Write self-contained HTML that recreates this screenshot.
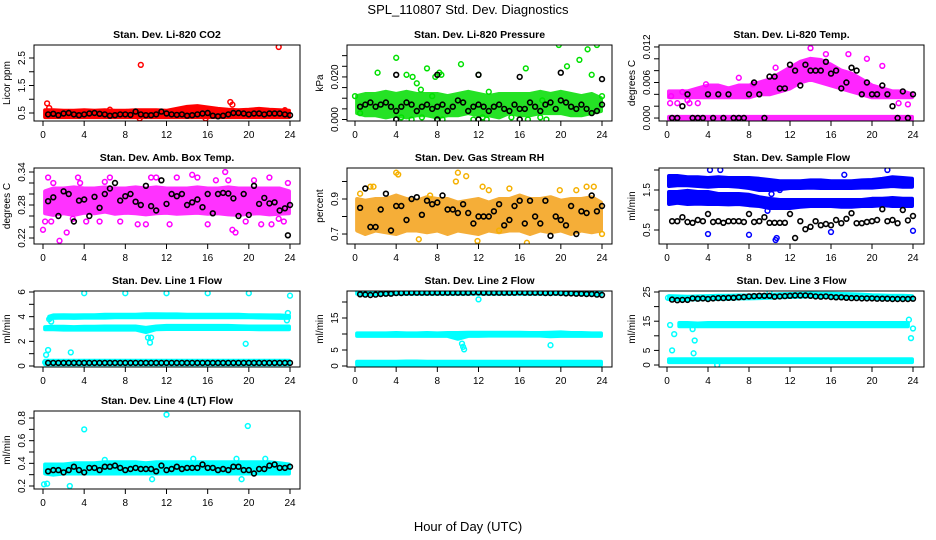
<!DOCTYPE html>
<html><head><meta charset="utf-8"><title>SPL_110807 Std. Dev. Diagnostics</title>
<style>
html,body{margin:0;padding:0;background:#fff}
svg{display:block;font-family:"Liberation Sans",sans-serif}
</style></head>
<body>
<svg id="chart" width="936" height="540" viewBox="0 0 936 540" xmlns="http://www.w3.org/2000/svg">
<rect width="936" height="540" fill="#fff"/>
<text x="468" y="14" text-anchor="middle" font-size="13">SPL_110807  Std. Dev. Diagnostics</text>
<text x="468" y="531" text-anchor="middle" font-size="13">Hour of Day (UTC)</text>
</svg>
<script>
const halfHours=[0.5,1,1.5,2,2.5,3,3.5,4,4.5,5,5.5,6,6.5,7,7.5,8,8.5,9,9.5,10,10.5,11,11.5,12,12.5,13,13.5,14,14.5,15,15.5,16,16.5,17,17.5,18,18.5,19,19.5,20,20.5,21,21.5,22,22.5,23,23.5,24];
const bandHours=[0,1,2,3,4,5,6,7,8,9,10,11,12,13,14,15,16,17,18,19,20,21,22,23,24];
const xTicks=[0,4,8,12,16,20,24];

// P1 CO2
const co2Lo=[0.35,0.35,0.35,0.35,0.35,0.35,0.35,0.35,0.35,0.35,0.35,0.35,0.35,0.35,0.35,0.35,0.35,0.35,0.35,0.35,0.35,0.35,0.35,0.35,0.35];
const co2Hi=[0.6,0.6,0.58,0.58,0.6,0.58,0.6,0.58,0.58,0.6,0.6,0.6,0.58,0.65,0.72,0.75,0.7,0.65,0.62,0.6,0.62,0.65,0.62,0.6,0.58];
const co2OutX=[0.4,0.6,9.5,9.4,18.2,22.9,15.8,23.5,6.5,18.4];
const co2OutY=[0.85,0.68,2.25,0.3,0.9,2.9,0.3,0.6,0.62,0.8];
const co2Black=[0.45,0.47,0.42,0.48,0.5,0.45,0.42,0.45,0.48,0.5,0.47,0.45,0.4,0.42,0.45,0.45,0.43,0.55,0.45,0.42,0.42,0.45,0.55,0.48,0.45,0.43,0.45,0.4,0.42,0.45,0.48,0.5,0.4,0.38,0.4,0.45,0.5,0.5,0.48,0.45,0.48,0.48,0.45,0.48,0.48,0.48,0.45,0.42];

// P2 Pressure
const presLo=[0.003,0.002,0.002,0.001,0.002,0.001,0.002,0.002,0.001,0.002,0.002,0.003,0.002,0.002,0.001,0.003,0.002,0.002,0.003,0.003,0.003,0.002,0.002,0.003,0.004];
const presHi=[0.011,0.012,0.012,0.013,0.012,0.013,0.012,0.012,0.012,0.011,0.012,0.013,0.012,0.011,0.012,0.012,0.012,0.012,0.013,0.012,0.013,0.012,0.011,0.012,0.01];
const presOutX=[0,0.5,2.2,4,5,5.6,6,6.4,7,7.5,7.8,8.2,8.4,10.3,12,13,16.6,18.2,19.8,20.6,21.8,22.6,23,23.5,24,4,4.5,5.5,6.5,8,8.5,11.5,12.4,12.8,15.2,16.8,18,18.6];
const presOutY=[0.011,0.003,0.022,0.029,0.021,0.02,0.017,0.014,0.024,0.011,0.02,0.022,0.021,0.026,0.021,0.013,0.024,0.009,0.035,0.025,0.028,0.033,0.021,0.035,0.011,0.0,0.001,0.0,0.001,0.0,0.0,0.0,0.001,0.0,0.001,0.0,0.001,0.0];
const presBlack=[0.006,0.007,0.008,0.006,0.007,0.008,0.006,0.004,0.006,0.008,0.007,0.004,0.006,0.007,0.005,0.006,0.007,0.004,0.006,0.009,0.008,0.004,0.006,0.007,0.006,0.004,0.006,0.007,0.005,0.004,0.007,0.005,0.005,0.008,0.006,0.004,0.007,0.008,0.005,0.009,0.008,0.006,0.005,0.007,0.005,0.003,0.004,0.007];
const presBOutX=[4,8,12,16,20,24,4,8,12,16];
const presBOutY=[0.021,0.021,0.021,0.02,0.022,0.019,0,0,0,0];

// P3 Li-820 Temp
const tempLo=[0.0035,0.0035,0.0035,0.0035,0.0035,0.0035,0.0035,0.0035,0.0035,0.004,0.004,0.0045,0.005,0.006,0.0065,0.006,0.0055,0.005,0.0045,0.004,0.0035,0.0035,0.0035,0.0035,0.0035];
const tempHi=[0.0045,0.0045,0.0045,0.005,0.0055,0.0055,0.005,0.0055,0.0055,0.006,0.0065,0.0075,0.0085,0.0095,0.01,0.0098,0.009,0.008,0.0075,0.0065,0.0055,0.005,0.0045,0.0045,0.004];
const tempZLo=[-0.0002,-0.0002,-0.0002,-0.0002,-0.0002,-0.0002,-0.0002,-0.0002,-0.0002,-0.0002,-0.0002,-0.0002,-0.0002,-0.0002,-0.0002,-0.0002,-0.0002,-0.0002,-0.0002,-0.0002,-0.0002,-0.0002,-0.0002,-0.0002,-0.0002];
const tempZHi=[0.0002,0.0002,0.0002,0.0002,0.0002,0.0002,0.0002,0.0002,0.0002,0.0002,0.0002,0.0002,0.0002,0.0002,0.0002,0.0002,0.0002,0.0002,0.0002,0.0002,0.0002,0.0002,0.0002,0.0002,0.0002];
const tempOutX=[0.3,0.4,1.5,2.2,3.8,7,8.4,10.6,14,15.5,17.7,19.5,21,22.6,23.5,1,2,3];
const tempOutY=[0.0025,0.0037,0.0044,0.0025,0.0057,0.0068,0.0057,0.0085,0.0118,0.0108,0.0108,0.01,0.0088,0.0025,0.0023,0.0025,0.003,0.0025];
const tempBlack=[0,0,0.002,0.004,0,0,0,0.004,0,0.004,0,0.004,0,0,0,0.004,0.006,0.004,0,0.007,0.007,0.005,0.005,0.009,0.008,0.0055,0.009,0.008,0.008,0.008,0.0095,0.0075,0.008,0.005,0.006,0.0085,0.008,0.004,0.006,0.004,0.004,0.0055,0.004,0.002,0,0.0045,0,0.004];

// P4 Amb Box Temp
const ambLo=[0.265,0.262,0.265,0.262,0.266,0.265,0.268,0.264,0.266,0.265,0.263,0.265,0.266,0.264,0.265,0.266,0.264,0.265,0.263,0.262,0.264,0.265,0.263,0.264,0.265];
const ambHi=[0.305,0.31,0.31,0.312,0.31,0.31,0.312,0.31,0.31,0.312,0.31,0.312,0.31,0.31,0.31,0.312,0.31,0.31,0.312,0.31,0.31,0.31,0.31,0.31,0.305];
const ambOutX=[0,0.2,0.5,0.8,1.6,2.3,2.9,3.4,4.2,5.5,6.5,7.5,9.2,10,11,12.3,14.5,16,16.8,17.7,18,18.4,18.7,19.7,21.2,22,22.2,22.9,23.4,23.8,10.5,3.6,13,1,6,15,20.5];
const ambOutY=[0.235,0.25,0.33,0.25,0.215,0.23,0.255,0.33,0.25,0.25,0.33,0.25,0.245,0.245,0.33,0.245,0.335,0.245,0.325,0.34,0.325,0.235,0.23,0.25,0.245,0.33,0.245,0.255,0.25,0.32,0.33,0.32,0.33,0.32,0.322,0.33,0.325];
const ambBlack=[0.287,0.294,0.26,0.305,0.3,0.25,0.288,0.29,0.26,0.295,0.275,0.3,0.31,0.32,0.288,0.296,0.3,0.286,0.28,0.315,0.278,0.27,0.325,0.282,0.3,0.296,0.3,0.28,0.285,0.29,0.276,0.3,0.265,0.3,0.302,0.301,0.292,0.26,0.3,0.262,0.315,0.282,0.293,0.283,0.285,0.27,0.274,0.28];
const ambBOutX=[23.8];
const ambBOutY=[0.225];

// P5 Gas Stream RH
const rhLo=[0.72,0.7,0.72,0.71,0.7,0.72,0.72,0.71,0.72,0.7,0.72,0.71,0.7,0.72,0.71,0.72,0.72,0.7,0.72,0.71,0.72,0.7,0.72,0.71,0.72];
const rhHi=[0.9,0.89,0.9,0.9,0.92,0.9,0.89,0.91,0.9,0.9,0.88,0.89,0.9,0.88,0.9,0.9,0.92,0.9,0.9,0.91,0.89,0.9,0.9,0.91,0.88];
const rhOutX=[1.5,1.8,4,4.2,6.2,9.8,10,10.8,11.9,12.4,13,14,16.7,19.9,21.5,22.5,23.2,24,0.5,7.3,15];
const rhOutY=[0.97,0.97,1.05,1.04,0.67,1.0,1.05,1.03,0.66,0.97,0.95,0.72,0.65,0.95,0.95,0.97,0.97,0.7,0.93,0.92,0.96];
const rhBlack=[0.85,0.96,0.74,0.74,0.84,0.93,0.72,0.86,0.86,0.78,0.9,0.91,0.81,0.89,0.87,0.88,0.92,0.84,0.84,0.82,0.87,0.82,0.76,0.8,0.8,0.8,0.83,0.87,0.75,0.78,0.86,0.89,0.76,0.89,0.8,0.76,0.89,0.69,0.8,0.78,0.75,0.86,0.7,0.83,0.82,0.92,0.83,0.86];

// P6 Sample Flow
const sfUpLo=[1.6,1.62,1.62,1.6,1.58,1.6,1.6,1.58,1.55,1.5,1.5,1.52,1.55,1.55,1.56,1.55,1.55,1.55,1.55,1.56,1.56,1.58,1.6,1.58,1.58];
const sfUpHi=[1.85,1.85,1.82,1.82,1.8,1.82,1.8,1.8,1.8,1.78,1.75,1.72,1.72,1.72,1.74,1.74,1.72,1.72,1.72,1.74,1.75,1.78,1.82,1.8,1.78];
const sfLoLo=[1.15,1.18,1.15,1.16,1.15,1.15,1.14,1.15,1.12,1.1,1.05,1.05,1.05,1.08,1.1,1.1,1.1,1.08,1.08,1.1,1.1,1.12,1.1,1.1,1.1];
const sfLoHi=[1.45,1.45,1.48,1.45,1.45,1.4,1.4,1.4,1.38,1.32,1.28,1.25,1.25,1.25,1.25,1.25,1.25,1.25,1.25,1.25,1.28,1.28,1.3,1.28,1.28];
const sfOutX=[4,4.2,8,10.6,10.7,16,24,5.2,17.3,21.5,9.8,10.2,11];
const sfOutY=[0.4,2.0,0.38,0.25,0.3,0.45,0.48,2.0,1.88,2.0,0.98,1.4,1.5];
const sfBlack=[0.72,0.72,0.82,0.7,0.68,0.75,0.72,0.9,0.7,0.72,0.68,0.72,0.72,0.72,0.7,0.9,0.7,0.72,0.82,0.68,0.68,0.68,0.68,0.9,0.3,0.72,0.52,0.58,0.72,0.62,0.65,0.62,0.75,0.67,0.78,0.92,0.67,0.67,0.7,0.72,0.75,1.02,0.72,0.75,0.67,1.0,0.74,0.85];

// P7 Line 1
const l1aLo=[3.85,3.9,3.92,3.9,3.92,3.92,3.92,3.95,3.95,3.95,3.95,3.95,3.95,3.95,3.95,3.95,3.95,3.95,3.95,3.95,3.95,3.93,3.92,3.9,3.9];
const l1aHi=[4.0,4.1,4.12,4.1,4.12,4.12,4.15,4.15,4.15,4.15,4.2,4.2,4.18,4.18,4.15,4.15,4.15,4.15,4.15,4.15,4.12,4.12,4.1,4.1,4.05];
const l1bLo=[2.98,2.98,2.95,2.95,2.95,2.95,2.95,2.95,2.95,2.95,2.75,2.98,3.0,3.0,3.0,3.0,3.0,3.0,3.0,3.0,3.0,2.98,2.98,2.98,2.98];
const l1bHi=[3.15,3.18,3.18,3.15,3.18,3.18,3.2,3.2,3.2,3.2,3.1,3.2,3.25,3.25,3.25,3.25,3.25,3.25,3.25,3.22,3.2,3.2,3.2,3.2,3.2];
const l1cLo=[0.15,0.15,0.15,0.15,0.15,0.15,0.15,0.15,0.15,0.15,0.15,0.15,0.15,0.15,0.15,0.15,0.15,0.15,0.15,0.15,0.15,0.15,0.15,0.15,0.15];
const l1cHi=[0.42,0.42,0.42,0.42,0.42,0.42,0.42,0.42,0.42,0.42,0.42,0.42,0.42,0.42,0.42,0.42,0.42,0.42,0.42,0.42,0.42,0.42,0.42,0.42,0.42];
const l1OutX=[0.2,0.3,0.5,0.6,0.8,2.7,4,8,10.2,10.4,10.5,12,16,19.7,20,23.8,23.7,24];
const l1OutY=[0.3,0.9,1.3,3.8,3.6,1.1,5.9,5.9,2.3,1.9,2.3,5.9,5.9,1.8,5.9,4.3,3.7,5.7];
const l1Black=[0.25,0.25,0.25,0.25,0.25,0.25,0.25,0.25,0.25,0.25,0.25,0.25,0.25,0.25,0.25,0.25,0.25,0.25,0.25,0.25,0.25,0.25,0.25,0.25,0.25,0.25,0.25,0.25,0.25,0.25,0.25,0.25,0.25,0.25,0.25,0.25,0.25,0.25,0.25,0.25,0.25,0.25,0.25,0.25,0.25,0.25,0.25,0.25];

// P8 Line 2
const l2aLo=[22.6,22.5,22.5,22.6,22.6,22.6,22.6,22.6,22.6,22.6,22.6,22.6,22.6,22.6,22.6,22.6,22.6,22.6,22.6,22.6,22.6,22.6,22.5,22.4,22.4];
const l2aHi=[23.4,23.4,23.4,23.4,23.4,23.5,23.5,23.5,23.5,23.5,23.5,23.5,23.5,23.5,23.5,23.5,23.5,23.5,23.6,23.6,23.5,23.5,23.4,23.4,23.3];
const l2bLo=[9.4,9.4,9.4,9.4,9.4,9.4,9.4,9.4,9.4,9.4,8.5,9.4,9.4,9.5,9.5,9.5,9.5,9.5,9.5,9.3,9.4,9.4,9.4,9.4,9.4];
const l2bHi=[10.2,10.2,10.2,10.2,10.3,10.2,10.2,10.3,10.2,10.3,10.3,10.4,10.4,10.4,10.4,10.4,10.4,10.3,10.3,10.4,10.5,10.3,10.3,10.2,10.2];
const l2cLo=[0.4,0.4,0.4,0.4,0.4,0.4,0.4,0.4,0.4,0.4,0.4,0.4,0.4,0.4,0.4,0.4,0.4,0.4,0.4,0.4,0.4,0.4,0.4,0.4,0.4];
const l2cHi=[1.3,1.3,1.3,1.3,1.3,1.4,1.4,1.3,1.3,1.3,1.3,1.3,1.3,1.3,1.3,1.3,1.3,1.3,1.3,1.3,1.3,1.3,1.3,1.3,1.3];
const l2OutX=[10.5,10.6,10.4,12,19,19.8];
const l2OutY=[6,5.2,7,20.8,6.5,0];
const l2Black=[22.4,22.3,22.2,22.3,22.5,22.6,22.6,22.8,22.8,22.9,22.9,22.9,22.9,22.9,22.9,22.9,22.9,22.9,22.9,22.9,22.9,22.9,23.0,23.0,22.9,22.9,22.9,22.9,22.9,22.9,22.9,23.0,22.9,22.9,22.9,22.9,22.8,22.8,22.9,22.8,22.7,22.7,22.6,22.6,22.5,22.5,22.3,22.2];

// P9 Line 3
const l3aLo=[22.6,22.5,22.4,22.5,22.6,22.6,22.7,22.8,22.8,22.9,23.0,23.2,23.3,23.4,23.5,23.4,23.4,23.3,23.2,23.1,22.9,22.8,22.7,22.7,22.6];
const l3aHi=[23.6,23.5,23.4,23.5,23.6,23.7,23.7,23.8,23.8,23.9,24.0,24.2,24.3,24.4,24.5,24.4,24.4,24.3,24.2,24.1,23.9,23.8,23.7,23.7,23.6];
const l3bLo=[13.3,13.3,13.3,13.3,13.3,13.3,13.3,13.3,13.3,13.3,13.3,13.3,13.3,13.3,13.3,13.3,13.3,13.3,13.3,13.3,13.3,13.3,13.3,13.3,13.3];
const l3bHi=[14.3,14.4,14.4,14.2,14.4,14.4,14.4,14.4,14.4,14.4,14.4,14.4,14.4,14.4,14.4,14.4,14.4,14.4,14.4,14.4,14.4,14.4,14.4,14.4,14.4];
const l3cLo=[1.0,1.0,1.0,1.0,1.0,1.0,1.0,1.0,1.0,1.0,1.0,1.0,1.0,1.0,1.0,1.0,1.0,1.0,1.0,1.0,1.0,1.0,1.0,1.0,1.0];
const l3cHi=[2.0,2.0,2.0,2.0,2.0,2.0,2.0,2.0,2.0,2.0,2.0,2.0,2.0,2.0,2.0,2.0,2.0,2.0,2.0,2.0,2.0,2.0,2.0,2.0,2.0];
const l3OutX=[0.3,0.5,0.7,2.5,2.6,2.7,23.6,23.8,24,0.1,4.9,10];
const l3OutY=[13.7,5,10.6,12.3,4,8.4,15.5,9.2,12.5,23,0,25];
const l3Black=[22.4,22.2,22.3,22.3,22.8,22.7,22.8,22.6,22.8,22.9,22.9,23,23,23.2,23.3,23.5,23.6,23.7,23.7,23.7,23.4,23.5,23.6,23.7,23.8,23.8,23.8,23.7,23.5,23.4,23.5,23.3,23.2,23.2,23.0,22.9,22.9,22.8,22.8,22.8,22.7,22.7,22.7,22.6,22.6,22.6,22.6,22.7];

// P10 Line 4
const l4Lo=[0.31,0.3,0.31,0.31,0.31,0.31,0.31,0.31,0.31,0.31,0.31,0.31,0.31,0.31,0.31,0.31,0.31,0.31,0.31,0.31,0.31,0.31,0.31,0.31,0.31];
const l4Hi=[0.39,0.39,0.39,0.4,0.4,0.4,0.41,0.41,0.41,0.41,0.4,0.41,0.41,0.41,0.41,0.41,0.41,0.41,0.41,0.41,0.41,0.41,0.41,0.4,0.39];
const l4OutX=[0.1,0.4,2.6,4,10.6,12,18.8,19.9,21.6,19.3,14.6,6];
const l4OutY=[0.215,0.22,0.2,0.7,0.26,0.83,0.44,0.73,0.44,0.26,0.44,0.43];
const l4Black=[0.33,0.34,0.34,0.32,0.34,0.37,0.34,0.32,0.36,0.36,0.34,0.37,0.37,0.38,0.36,0.34,0.35,0.36,0.35,0.35,0.35,0.33,0.38,0.34,0.35,0.37,0.35,0.36,0.36,0.36,0.39,0.36,0.36,0.34,0.35,0.34,0.37,0.37,0.34,0.34,0.31,0.35,0.35,0.38,0.39,0.36,0.36,0.37];

const NS='http://www.w3.org/2000/svg';
const svg=document.getElementById('chart');
function mk(tag,attrs,parent){const e=document.createElementNS(NS,tag);for(const k in attrs)e.setAttribute(k,attrs[k]);(parent||svg).appendChild(e);return e;}

const colX=[[34,300,43,290],[347,612,355,602],[659,924,667,913]];
const rowY=[[45,121],[168,244],[291,367],[411,489]];

function panel(p){
  const [bx0,bx1,t0,t24]=colX[p.col];
  const [by0,by1]=rowY[p.row];
  const g=mk('g',{});
  
  
  const xs=h=>t0+(t24-t0)*h/24;
  const ys=v=>by1-(v-p.ymin)/(p.ymax-p.ymin)*(by1-by0);
  const cid='clip-'+p.name;
  const cp=mk('clipPath',{id:cid},g);
  mk('rect',{x:bx0,y:by0,width:bx1-bx0,height:by1-by0},cp);
  const pg=mk('g',{'clip-path':'url(#'+cid+')'},g);
  (p.bands||[]).forEach((b,bi)=>{
    let pts=[];
    bandHours.forEach((h,i)=>pts.push(xs(Math.min(Math.max(h,b.start||0.2),b.end||23.9)).toFixed(1)+','+ys(b.hi[i]).toFixed(1)));
    for(let i=bandHours.length-1;i>=0;i--)pts.push(xs(Math.min(Math.max(bandHours[i],b.start||0.2),b.end||23.9)).toFixed(1)+','+ys(b.lo[i]).toFixed(1));
    const poly=mk('polygon',{points:pts.join(' '),fill:p.fill||p.color,stroke:p.fill||p.color,'stroke-width':4,'stroke-linejoin':'round',opacity:p.bandOpacity||1},pg);
    
    
  });
  (p.outs||[]).forEach(o=>{
    o.x.forEach((h,i)=>{
      const c=mk('circle',{cx:xs(h).toFixed(1),cy:ys(o.y[i]).toFixed(1),r:2.4,fill:'none',stroke:o.color||p.color,'stroke-width':1.5},pg);
      
      
    });
  });
  (p.black||[]).forEach(b=>{
    b.x.forEach((h,i)=>{
      const c=mk('circle',{cx:xs(h).toFixed(1),cy:ys(b.y[i]).toFixed(1),r:2.4,fill:'none',stroke:'#000','stroke-width':1.6},pg);
      
      
    });
  });
  const box=mk('rect',{x:bx0,y:by0,width:bx1-bx0,height:by1-by0,fill:'none',stroke:'#000','stroke-width':1},g);
  
  
  mk('line',{x1:xs(0),y1:by1,x2:xs(24),y2:by1,stroke:'#000'},g);
  xTicks.forEach(h=>{
    mk('line',{x1:xs(h),y1:by1,x2:xs(h),y2:by1+5,stroke:'#000'},g);
    const t=mk('text',{x:xs(h),y:by1+17,'text-anchor':'middle','font-size':10},g);
    t.textContent=h;
    
    
  });
  p.yticks.forEach(v=>{
    const y=ys(v);
    mk('line',{x1:bx0,y1:y,x2:bx0-5,y2:y,stroke:'#000'},g);
  });
  p.ylabels.forEach((lab,i)=>{
    const y=ys(p.ylabelVals[i]);
    const t=mk('text',{x:bx0-9,y:y,'text-anchor':'middle','font-size':10,transform:'rotate(-90 '+(bx0-9)+' '+y+')'},g);
    t.textContent=lab;
    
    
  });
  const yt=mk('text',{x:bx0-24,y:(by0+by1)/2,'text-anchor':'middle','font-size':10,transform:'rotate(-90 '+(bx0-24)+' '+((by0+by1)/2)+')'},g);
  yt.textContent=p.ytitle;
  
  
  const tt=mk('text',{x:(bx0+bx1)/2,y:by0-7,'text-anchor':'middle','font-size':10.5,'font-weight':'bold'},g);
  tt.textContent=p.title;
  
  
}

panel({name:'co2-panel',col:0,row:0,title:'Stan. Dev. Li-820 CO2',ytitle:'Licor ppm',ymin:0.209,ymax:2.973,color:'#ff0000',
  yticks:[0.5,1,1.5,2,2.5],ylabels:['0.5','1.5','2.5'],ylabelVals:[0.5,1.5,2.5],
  bands:[{lo:co2Lo,hi:co2Hi}],outs:[{x:co2OutX,y:co2OutY}],black:[{x:halfHours,y:co2Black}]});
panel({name:'pressure-panel',col:1,row:0,title:'Stan. Dev. Li-820 Pressure',ytitle:'kPa',ymin:-0.0007,ymax:0.035,color:'#00e000',fill:'#00dd00',bandOpacity:0.85,
  yticks:[0,0.005,0.01,0.015,0.02,0.025,0.03],ylabels:['0.000','0.020'],ylabelVals:[0,0.02],
  bands:[{lo:presLo,hi:presHi}],outs:[{x:presOutX,y:presOutY}],black:[{x:halfHours,y:presBlack},{x:presBOutX,y:presBOutY}]});
panel({name:'li820-temp-panel',col:2,row:0,title:'Stan. Dev. Li-820 Temp.',ytitle:'degrees C',ymin:-0.0005,ymax:0.01233,color:'#ff00ff',bandOpacity:0.85,
  yticks:[0,0.002,0.004,0.006,0.008,0.01,0.012],ylabels:['0.000','0.006','0.012'],ylabelVals:[0,0.006,0.012],
  bands:[{lo:tempLo,hi:tempHi},{lo:tempZLo,hi:tempZHi}],outs:[{x:tempOutX,y:tempOutY}],black:[{x:halfHours,y:tempBlack}]});
panel({name:'amb-box-temp-panel',col:0,row:1,title:'Stan. Dev. Amb. Box Temp.',ytitle:'degrees C',ymin:0.2091,ymax:0.3473,color:'#ff00ff',bandOpacity:0.8,
  yticks:[0.22,0.24,0.26,0.28,0.30,0.32,0.34],ylabels:['0.22','0.28','0.34'],ylabelVals:[0.22,0.28,0.34],
  bands:[{lo:ambLo,hi:ambHi}],outs:[{x:ambOutX,y:ambOutY}],black:[{x:halfHours,y:ambBlack},{x:ambBOutX,y:ambBOutY}]});
panel({name:'gas-stream-rh-panel',col:1,row:1,title:'Stan. Dev. Gas Stream RH',ytitle:'percent',ymin:0.643,ymax:1.077,color:'#ffd000',fill:'#f5a623',bandOpacity:0.9,
  yticks:[0.7,0.8,0.9,1.0],ylabels:['0.7','0.9'],ylabelVals:[0.7,0.9],
  bands:[{lo:rhLo,hi:rhHi}],outs:[{x:rhOutX,y:rhOutY,color:'#f5b000'}],black:[{x:halfHours,y:rhBlack}]});
panel({name:'sample-flow-panel',col:2,row:1,title:'Stan. Dev. Sample Flow',ytitle:'ml/min',ymin:0.15,ymax:2.05,color:'#0000ff',
  yticks:[0.5,1,1.5,2],ylabels:['0.5','1.5'],ylabelVals:[0.5,1.5],
  bands:[{lo:sfUpLo,hi:sfUpHi},{lo:sfLoLo,hi:sfLoHi}],outs:[{x:sfOutX,y:sfOutY}],black:[{x:halfHours,y:sfBlack}]});
panel({name:'line1-flow-panel',col:0,row:2,title:'Stan. Dev. Line 1 Flow',ytitle:'ml/min',ymin:-0.08,ymax:6.08,color:'#00ffff',
  yticks:[0,1,2,3,4,5,6],ylabels:['0','2','4','6'],ylabelVals:[0,2,4,6],
  bands:[{lo:l1aLo,hi:l1aHi,start:0.6},{lo:l1bLo,hi:l1bHi},{lo:l1cLo,hi:l1cHi}],outs:[{x:l1OutX,y:l1OutY}],black:[{x:halfHours,y:l1Black}]});
panel({name:'line2-flow-panel',col:1,row:2,title:'Stan. Dev. Line 2 Flow',ytitle:'ml/min',ymin:-0.31,ymax:23.44,color:'#00ffff',
  yticks:[0,5,10,15,20],ylabels:['0','5','15'],ylabelVals:[0,5,15],
  bands:[{lo:l2aLo,hi:l2aHi},{lo:l2bLo,hi:l2bHi},{lo:l2cLo,hi:l2cHi}],outs:[{x:l2OutX,y:l2OutY}],black:[{x:halfHours,y:l2Black}]});
panel({name:'line3-flow-panel',col:2,row:2,title:'Stan. Dev. Line 3 Flow',ytitle:'ml/min',ymin:-0.68,ymax:25.34,color:'#00ffff',
  yticks:[0,5,10,15,20,25],ylabels:['0','5','15','25'],ylabelVals:[0,5,15,25],
  bands:[{lo:l3aLo,hi:l3aHi},{lo:l3bLo,hi:l3bHi,start:1.2,end:23.5},{lo:l3cLo,hi:l3cHi}],outs:[{x:l3OutX,y:l3OutY}],black:[{x:halfHours,y:l3Black}]});
panel({name:'line4-flow-panel',col:0,row:3,title:'Stan. Dev. Line 4 (LT) Flow',ytitle:'ml/min',ymin:0.1735,ymax:0.862,color:'#00ffff',
  yticks:[0.2,0.3,0.4,0.5,0.6,0.7,0.8],ylabels:['0.2','0.4','0.6','0.8'],ylabelVals:[0.2,0.4,0.6,0.8],
  bands:[{lo:l4Lo,hi:l4Hi}],outs:[{x:l4OutX,y:l4OutY}],black:[{x:halfHours,y:l4Black}]});
</script>
</body></html>
